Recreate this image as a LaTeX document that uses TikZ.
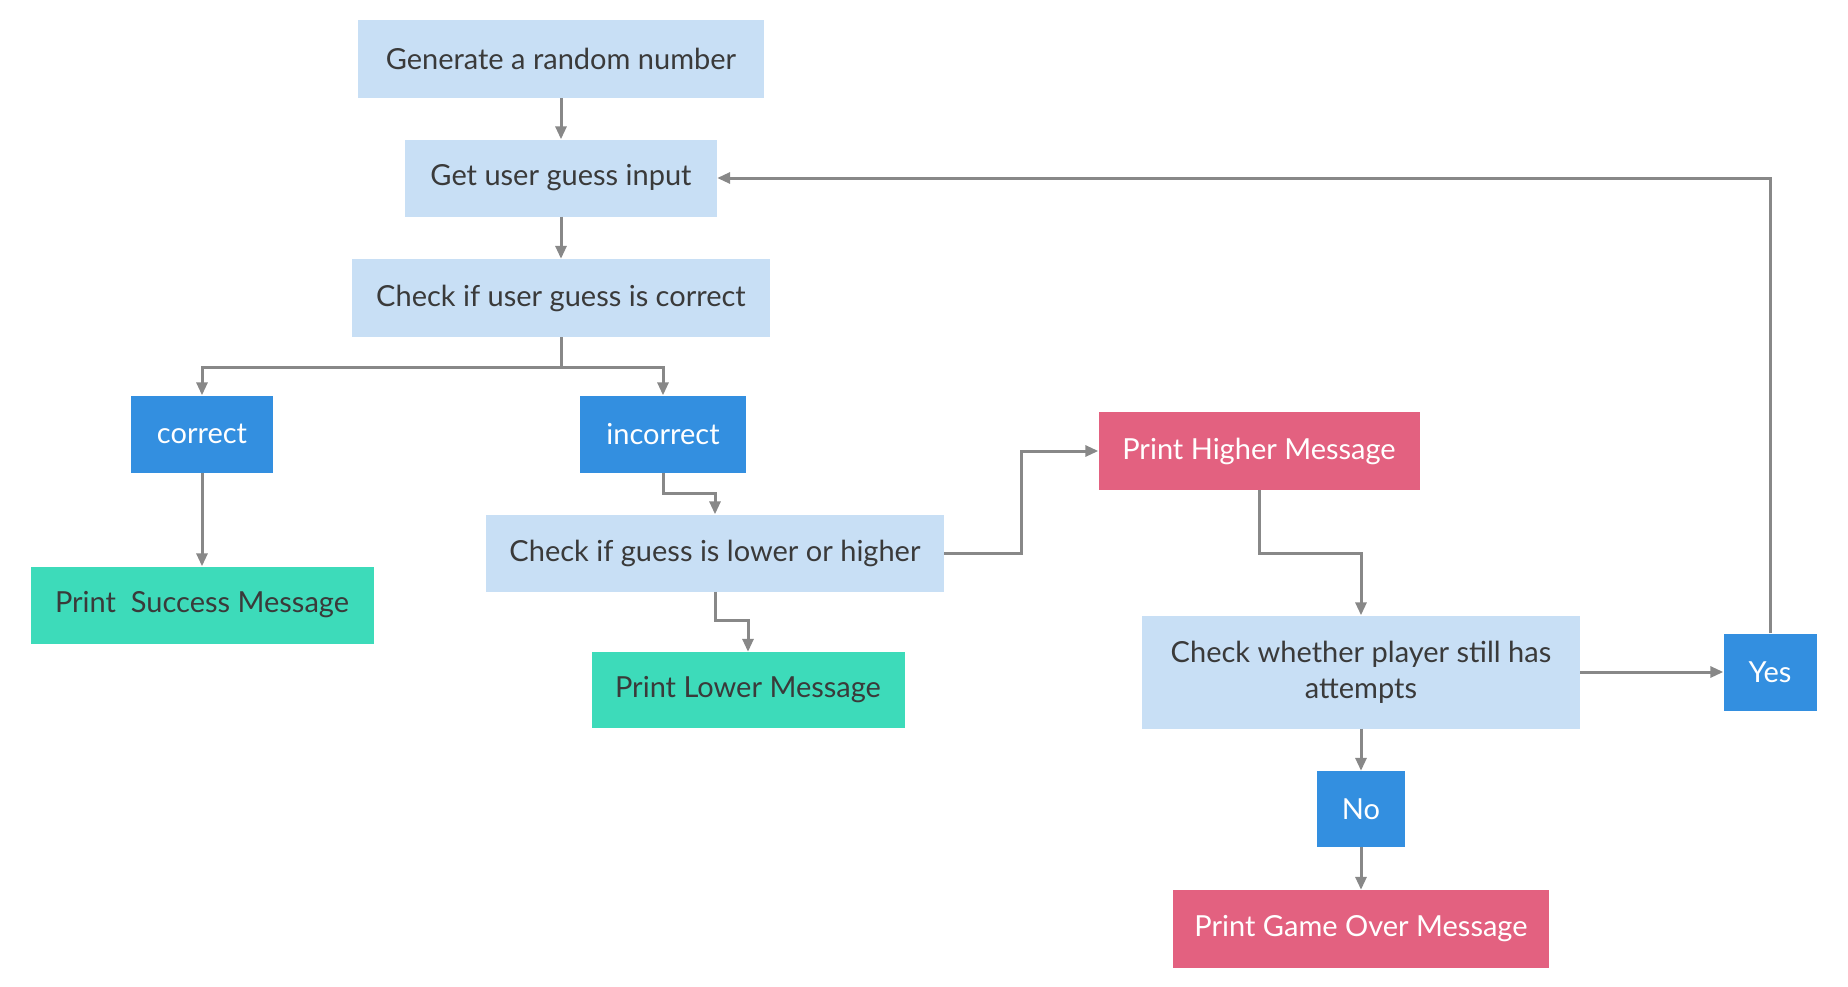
\documentclass[tikz,border=0pt]{standalone}
\usepackage{fontspec}
\setmainfont{Lato}
\usetikzlibrary{arrows.meta}
\definecolor{lightb}{HTML}{C8DFF5}
\definecolor{darkb}{HTML}{338FE0}
\definecolor{teal}{HTML}{3DDBBA}
\definecolor{pink}{HTML}{E36180}
\definecolor{txt}{HTML}{3A3A3A}
\definecolor{conn}{HTML}{888888}
\tikzset{
  box/.style={rectangle, inner sep=0pt, font=\fontsize{29}{36}\selectfont, text=txt},
  light/.style={box, fill=lightb},
  dark/.style={box, fill=darkb, text=white},
  green/.style={box, fill=teal},
  red/.style={box, fill=pink, text=white},
  arr/.style={draw=conn, line width=3pt, -{Triangle[length=13pt,width=11pt]}},
}
\begin{document}
\begin{tikzpicture}[x=1pt,y=-1pt]
\useasboundingbox[fill=white] (0,0) rectangle (1848,986);
\node[light, minimum width=406pt, minimum height=78pt] (gen) at (561,59) {Generate a random number};
\node[light, minimum width=312pt, minimum height=77pt] (get) at (561,178) {Get user guess input};
\node[light, minimum width=418pt, minimum height=78pt] (chk) at (561,298) {Check if user guess is correct};
\node[dark, minimum width=142pt, minimum height=77pt] (cor) at (202,434) {correct};
\node[dark, minimum width=166pt, minimum height=77pt] (inc) at (663,434) {incorrect};
\node[green, minimum width=343pt, minimum height=77pt] (succ) at (202,605) {Print\ \ Success Message};
\node[light, minimum width=458pt, minimum height=77pt] (lh) at (715,553) {Check if guess is lower or higher};
\node[green, minimum width=313pt, minimum height=76pt] (low) at (748,690) {Print Lower Message};
\node[red, minimum width=321pt, minimum height=78pt] (high) at (1259,451) {Print Higher Message};
\node[light, minimum width=438pt, minimum height=113pt, align=center] (att) at (1361,672) {Check whether player still has\\attempts};
\node[dark, minimum width=93pt, minimum height=77pt] (yes) at (1770,672) {Yes};
\node[dark, minimum width=88pt, minimum height=76pt] (no) at (1361,809) {No};
\node[red, minimum width=376pt, minimum height=78pt] (over) at (1361,929) {Print Game Over Message};
\coordinate (b1) at (561,367);
\draw[arr] (gen) -- (get);
\draw[arr] (get) -- (chk);
\draw[draw=conn, line width=3pt] (chk.south) -- (b1);
\draw[arr] (b1) -| (cor.north);
\draw[arr] (b1) -| (inc.north);
\draw[arr] (cor) -- (succ);
\draw[arr] (inc.south) -- ++(0,21) -| (lh.north);
\draw[arr] (lh.south) -- ++(0,29) -| (low.north);
\draw[arr] (lh.east) -- ++(77,0) |- (high.west);
\draw[arr] (high.south) -- ++(0,63) -| (att.north);
\draw[arr] (att) -- (yes);
\draw[arr] (att) -- (no);
\draw[arr] (no) -- (over);
\draw[arr] (yes.north) |- (get.east);
\end{tikzpicture}
\end{document}
